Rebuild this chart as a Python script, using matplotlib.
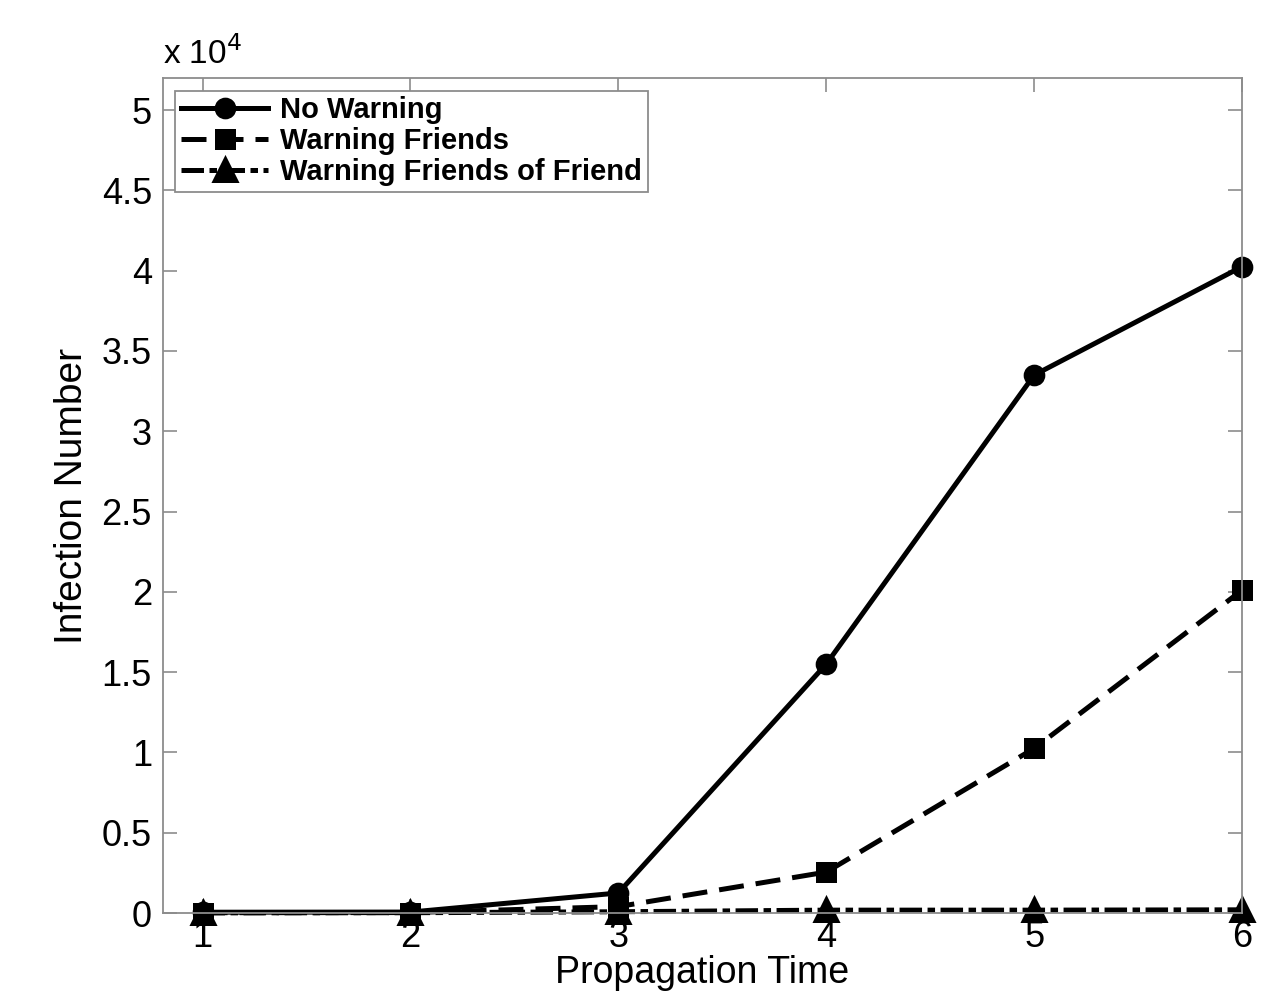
"""Infection number vs. propagation time for three warning strategies."""

import matplotlib
matplotlib.use("Agg")
import matplotlib.pyplot as plt

plt.rcParams["font.family"] = ["Liberation Sans", "DejaVu Sans"]

propagation_time = [1, 2, 3, 4, 5, 6]
no_warning = [50, 60, 1250, 15500, 33500, 40250]
warning_friends = [20, 30, 400, 2550, 10250, 20100]
warning_fof = [10, 20, 80, 180, 180, 200]

SPINE = "#8c8c8c"

fig = plt.figure(figsize=(12.88, 9.96), dpi=100)
ax = fig.add_axes([0.1266, 0.0833, 0.8377, 0.8384])

common = dict(color="black", lw=3.6, markeredgewidth=3.6,
              markerfacecolor="black", markeredgecolor="black", clip_on=False)
ax.plot(propagation_time, no_warning, "-o", markersize=12,
        label="No Warning", **common)
ax.plot(propagation_time, warning_friends, "--s", markersize=12,
        label="Warning Friends", dashes=(5, 2.4), **common)
ax.plot(propagation_time, warning_fof, "-.^", markersize=14,
        label="Warning Friends of Friend", dashes=(4.5, 1.1, 1.5, 1.1), **common)

ax.set_xlim(0.81, 6)
ax.set_ylim(0, 5.2e4)
ax.set_xticks(propagation_time)
ax.set_yticks([i * 5000 for i in range(11)])
ax.set_yticklabels(["0", "0.5", "1", "1.5", "2", "2.5", "3", "3.5", "4", "4.5", "5"])

for s in ax.spines.values():
    s.set_color(SPINE)
    s.set_linewidth(1.3)
ax.tick_params(direction="in", length=10, width=1.2, color=SPINE,
               labelsize=26, top=True, right=True, pad=8)
ax.tick_params(axis="x", pad=5)

ax.set_xlabel("Propagation Time", fontsize=27, labelpad=0)
ax.set_ylabel("Infection Number", fontsize=28, labelpad=8)
ax.text(0.0, 1.008, r"x 10$^4$", transform=ax.transAxes, fontsize=24,
        ha="left", va="bottom")

leg = ax.legend(loc="upper left", bbox_to_anchor=(0.011, 0.985),
                prop={"weight": "bold", "size": 21}, fancybox=False,
                edgecolor=SPINE, borderpad=0.2, labelspacing=0.1,
                handlelength=3.0, handletextpad=0.4, borderaxespad=0,
                framealpha=1)
leg.get_frame().set_linewidth(1.3)

fig.savefig("out.png", dpi=100, facecolor="white")
